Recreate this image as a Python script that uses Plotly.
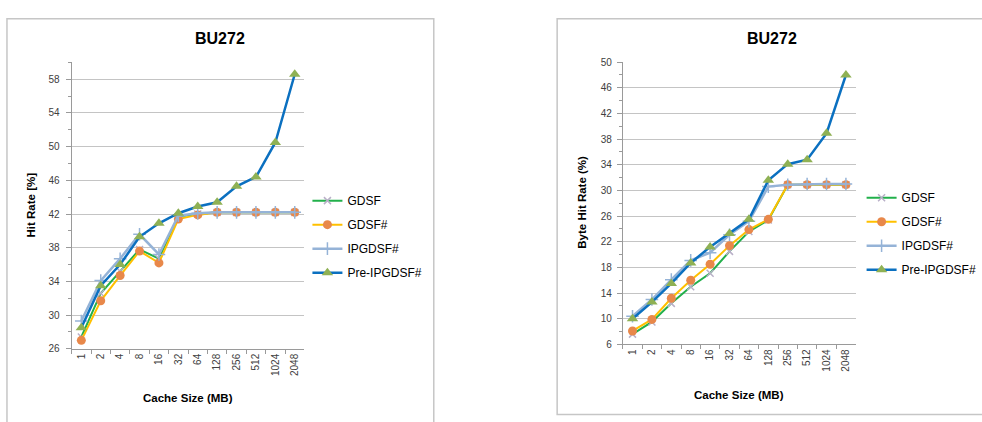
import plotly.graph_objects as go

sizes = ["1", "2", "4", "8", "16", "32", "64", "128", "256", "512", "1024", "2048"]
series_names = ["GDSF", "GDSF#", "IPGDSF#", "Pre-IPGDSF#"]

hit_gdsf = [27.4, 32.6, 35.2, 37.8, 36.7, 41.7, 42.0, 42.2, 42.2, 42.2, 42.2, 42.2]
hit_gdsf_s = [27.0, 31.7, 34.7, 37.6, 36.2, 41.4, 41.9, 42.2, 42.2, 42.2, 42.2, 42.2]
hit_ipgdsf = [29.3, 34.1, 36.7, 39.6, 37.2, 41.8, 42.1, 42.2, 42.2, 42.2, 42.2, 42.2]
hit_pre = [28.5, 33.5, 36.0, 39.3, 40.9, 42.1, 42.9, 43.4, 45.3, 46.4, 50.5, 58.6]

byte_gdsf = [7.6, 9.5, 12.4, 15.0, 17.1, 20.5, 23.6, 25.4, 30.9, 30.9, 30.9, 30.9]
byte_gdsf_s = [8.1, 9.9, 13.2, 16.0, 18.5, 21.4, 23.9, 25.5, 30.9, 30.9, 30.9, 30.9]
byte_ipgdsf = [10.4, 13.0, 16.1, 19.1, 20.3, 23.1, 25.2, 30.6, 30.9, 31.0, 31.0, 31.0]
byte_pre = [10.0, 12.6, 15.5, 18.7, 21.2, 23.3, 25.5, 31.6, 34.1, 34.8, 38.9, 48.0]

W, H = 982, 422
FONT = "Liberation Sans, Arial, sans-serif"

styles = [
    dict(line=dict(color="#22b04b", width=2),
         marker=dict(symbol="x-thin", size=7, line=dict(color="#b9b0c8", width=1.5), color="#b9b0c8")),
    dict(line=dict(color="#ffc000", width=2),
         marker=dict(symbol="circle", size=9, color="#e8884a")),
    dict(line=dict(color="#95b3d7", width=2.5),
         marker=dict(symbol="cross-thin", size=9, line=dict(color="#95b3d7", width=1.5), color="#95b3d7")),
    dict(line=dict(color="#0b70c0", width=2.5),
         marker=dict(symbol="triangle-up", size=10, color="#8fb154")),
]

fig = go.Figure()

left = [hit_gdsf, hit_gdsf_s, hit_ipgdsf, hit_pre]
right = [byte_gdsf, byte_gdsf_s, byte_ipgdsf, byte_pre]

for i, (name, vals) in enumerate(zip(series_names, left)):
    fig.add_trace(go.Scatter(x=sizes, y=vals, name=name, mode="lines+markers",
                             xaxis="x", yaxis="y", legend="legend",
                             legendgroup="L%d" % i, **styles[i]))
for i, (name, vals) in enumerate(zip(series_names, right)):
    fig.add_trace(go.Scatter(x=sizes, y=vals, name=name, mode="lines+markers",
                             xaxis="x2", yaxis="y2", legend="legend2",
                             legendgroup="R%d" % i, **styles[i]))

def px_x(p):
    return p / W

def px_y(p):
    return 1 - p / H

axis_common = dict(showline=True, linecolor="#9a9a9a", linewidth=1,
                   tickfont=dict(family=FONT, size=10, color="#404040"),
                   zeroline=False)

xcommon = dict(axis_common, type="category", range=[-0.5, 11.5], tickangle=-90,
               ticks="outside", ticklen=4, tickcolor="#9a9a9a", tickson="boundaries",
               showgrid=False)

def ann(text, x, y, size, angle=0):
    return dict(text=text, x=px_x(x), y=px_y(y), xref="paper", yref="paper",
                xanchor="center", yanchor="middle", showarrow=False, textangle=angle,
                font=dict(family=FONT, size=size, color="#000"))

fig.update_layout(
    width=W, height=H, margin=dict(l=0, r=0, t=0, b=0),
    paper_bgcolor="white", plot_bgcolor="white",
    font=dict(family=FONT),
    xaxis=dict(xcommon, domain=[px_x(72), px_x(306)], anchor="y"),
    yaxis=dict(axis_common, domain=[px_y(353), px_y(59)], anchor="x",
               range=[26, 60], tick0=26, dtick=4, ticks="outside", ticklen=5,
               ticklabelstandoff=4,
               tickcolor="#9a9a9a", showgrid=True, gridcolor="#c4c4c4", gridwidth=1,
               minor=dict(dtick=2, tick0=26, ticks="outside", ticklen=3, tickcolor="#9a9a9a", showgrid=False)),
    xaxis2=dict(xcommon, domain=[px_x(626), px_x(860)], anchor="y2"),
    yaxis2=dict(axis_common, domain=[px_y(348.5), px_y(58.7)], anchor="x2",
                range=[6, 50], tick0=6, dtick=4, ticks="outside", ticklen=5,
                ticklabelstandoff=3,
                tickcolor="#9a9a9a", showgrid=True, gridcolor="#c4c4c4", gridwidth=1,
                minor=dict(dtick=2, tick0=6, ticks="outside", ticklen=3, tickcolor="#9a9a9a", showgrid=False)),
    legend=dict(x=px_x(309), y=px_y(186), xanchor="left", yanchor="top",
                font=dict(family=FONT, size=12, color="#000000"),
                traceorder="grouped", tracegroupgap=5, bgcolor="rgba(0,0,0,0)"),
    legend2=dict(x=px_x(866), y=px_y(183), xanchor="left", yanchor="top",
                 font=dict(family=FONT, size=12, color="#000000"),
                 traceorder="grouped", tracegroupgap=5, bgcolor="rgba(0,0,0,0)"),
    shapes=[
        dict(type="rect", xref="paper", yref="paper", x0=px_x(7), x1=px_x(436),
             y0=px_y(430), y1=px_y(14), line=dict(color="#c6c6c6", width=1.5)),
        dict(type="rect", xref="paper", yref="paper", x0=px_x(560), x1=px_x(990),
             y0=px_y(420.5), y1=px_y(14), line=dict(color="#c6c6c6", width=1.5)),
    ],
    annotations=[
        ann("<b>BU272</b>", 221, 34, 16),
        ann("<b>BU272</b>", 776, 34, 16),
        ann("<b>Hit Rate [%]</b>", 31, 205, 11.5, -90),
        ann("<b>Byte Hit Rate (%)</b>", 585, 203, 11.5, -90),
        ann("<b>Cache Size (MB)</b>", 189, 404, 11.5),
        ann("<b>Cache Size (MB)</b>", 743, 400, 11.5),
    ],
)

fig.write_html("out.html", config={"displayModeBar": False},
               post_script="document.body.style.margin='0';document.body.style.overflow='hidden';")
